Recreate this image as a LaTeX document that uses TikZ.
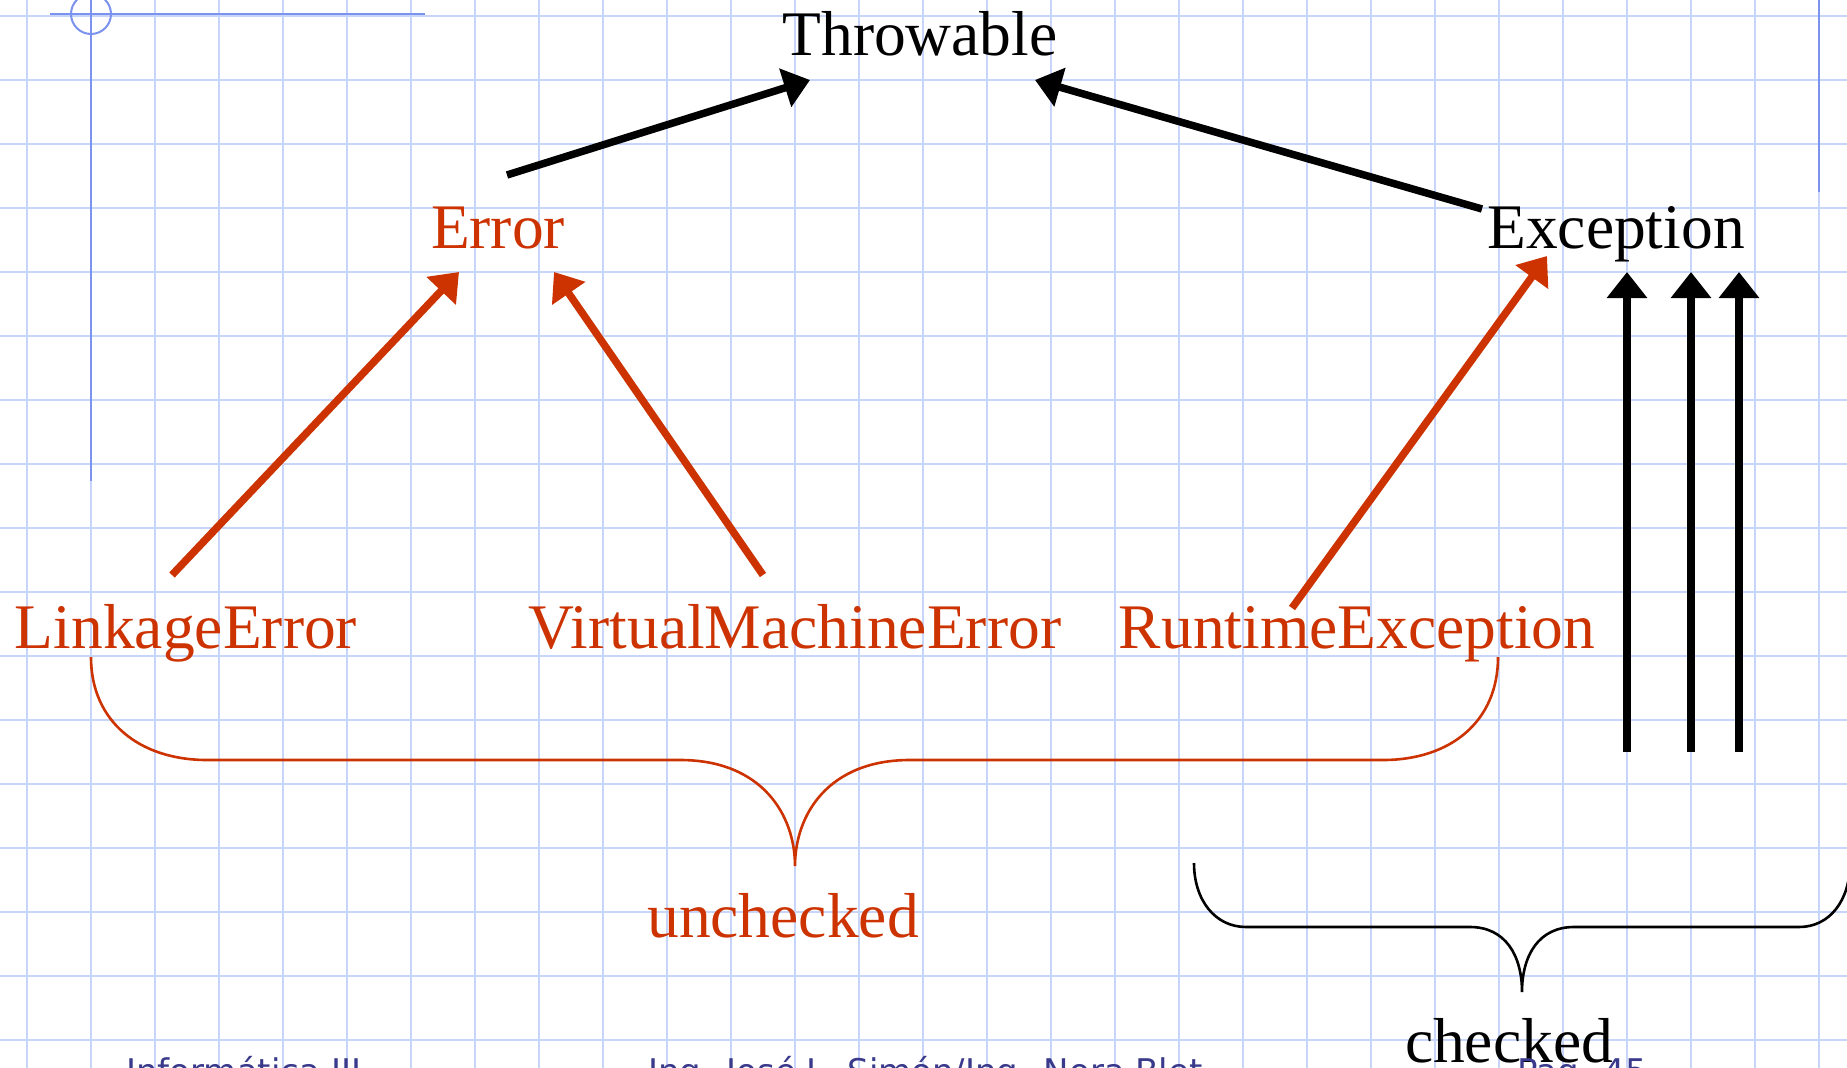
\documentclass[tikz,border=0pt]{standalone}
\usepackage{fontspec}
\setmainfont{Liberation Serif}
\newfontfamily\footfont{DejaVu Sans}
\usetikzlibrary{arrows.meta}
\definecolor{gridc}{HTML}{C8D5FA}
\definecolor{guide}{HTML}{7B93EE}
\definecolor{redc}{HTML}{CC3300}
\definecolor{footc}{HTML}{3A3A8C}
\tikzset{
  lbl/.style={anchor=base, inner sep=0pt, font=\fontsize{63.5}{70}\selectfont},
  redlbl/.style={lbl, text=redc},
  blkarrow/.style={line width=7.5pt, -{Triangle[width=39pt,length=26pt]}, black},
  redarrow/.style={line width=7.5pt, -{Triangle[width=39pt,length=26pt]}, redc},
  brace/.style={line width=2.6pt},
  foot/.style={anchor=base west, inner sep=0pt, text=footc, font=\footfont\fontsize{34}{40}\selectfont}
}
\begin{document}
\begin{tikzpicture}[x=1pt,y=-1pt]
\useasboundingbox (0,0) rectangle (1847,1068);
\clip (0,0) rectangle (1847,1068);
\fill[white] (0,0) rectangle (1847,1068);
% grid
\foreach \k in {0,...,28} \draw[gridc, line width=2.2pt] ({27+64*\k},0) -- ({27+64*\k},1068);
\foreach \k in {0,...,16} \draw[gridc, line width=2.2pt] (0,{16+64*\k}) -- (1847,{16+64*\k});
% guide lines
\draw[guide, line width=2pt] (91,0) -- (91,481);
\draw[guide, line width=2pt] (50,14) -- (425,14);
\draw[guide, line width=2pt] (91,14) circle (20);
\draw[guide, line width=2pt] (1819,0) -- (1819,192);
% labels
\node[lbl] (thr) at (920,55) {Throwable};
\node[redlbl] (err) at (498,248) {Error};
\node[lbl] (exc) at (1616,248) {Exception};
\node[redlbl] (link) at (186,648) {LinkageError};
\node[redlbl] (vme) at (795,648) {VirtualMachineError};
\node[redlbl] (rte) at (1357,648) {RuntimeException};
\node[redlbl] (unch) at (783,937) {unchecked};
\node[lbl] (chk) at (1509,1062) {checked};
% connector end points
\coordinate (errA) at (507,175);
\coordinate (thrL) at (810,80);
\coordinate (excA) at (1482,209);
\coordinate (thrR) at (1035,80);
\coordinate (linkA) at (172,575);
\coordinate (errL) at (459,272);
\coordinate (vmeA) at (763,575);
\coordinate (errR) at (554,272);
\coordinate (rteA) at (1292,608);
\coordinate (excL) at (1547,256);
\coordinate (c1a) at (1627,752); \coordinate (c1b) at (1627,272);
\coordinate (c2a) at (1691,752); \coordinate (c2b) at (1691,272);
\coordinate (c3a) at (1739,752); \coordinate (c3b) at (1739,272);
% arrows
\draw[blkarrow] (errA) -- (thrL);
\draw[blkarrow] (excA) -- (thrR);
\draw[redarrow] (linkA) -- (errL);
\draw[redarrow] (vmeA) -- (errR);
\draw[redarrow] (rteA) -- (excL);
\draw[blkarrow] (c1a) -- (c1b);
\draw[blkarrow] (c2a) -- (c2b);
\draw[blkarrow] (c3a) -- (c3b);
% braces
\draw[brace, redc] (91,657) .. controls (91,722) and (140,760) .. (207,760)
  -- (680,760) .. controls (762,760) and (795,815) .. (795,866)
  .. controls (795,815) and (828,760) .. (910,760)
  -- (1383,760) .. controls (1450,760) and (1498,722) .. (1498,657);
\draw[brace, black] (1194,863) .. controls (1194,900) and (1215,927) .. (1246,927)
  -- (1470,927) .. controls (1505,927) and (1522,955) .. (1522,992)
  .. controls (1522,955) and (1539,927) .. (1574,927)
  -- (1799,927) .. controls (1830,927) and (1850,900) .. (1850,863);
% footer
\node[foot] (f1) at (126,1083) {Informática III};
\node[foot] (f2) at (648,1083) {Ing. José L. Simón/Ing. Nora Blet};
\node[foot] (f3) at (1517,1083) {Pag. 45};
\end{tikzpicture}
\end{document}
